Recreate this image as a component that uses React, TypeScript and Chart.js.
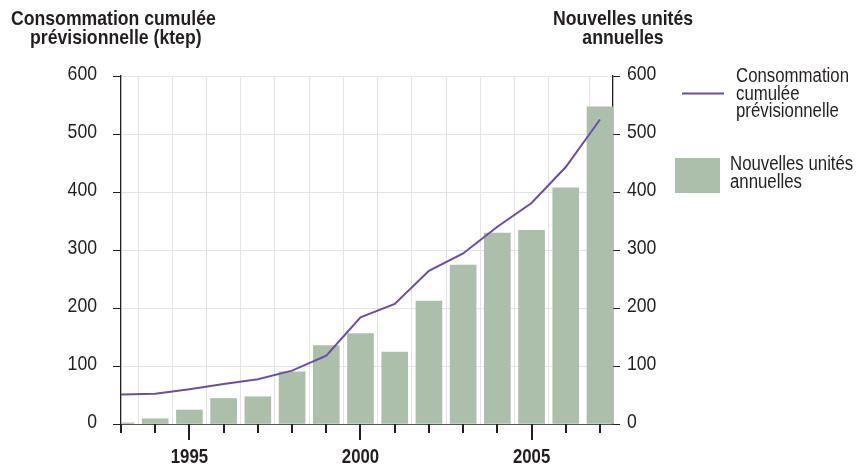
import React, { useEffect, useRef } from "react";
import { Chart, registerables } from "chart.js";

Chart.register(...registerables);

const years = [1993, 1994, 1995, 1996, 1997, 1998, 1999, 2000, 2001, 2002, 2003, 2004, 2005, 2006, 2007];
const consommation = [51, 52, 60, 69, 77, 92, 118, 184, 207, 264, 294, 340, 381, 443, 525];
const nouvellesUnites = [2, 9, 24, 44, 47, 90, 135, 156, 124, 212, 274, 329, 334, 407, 547];
const yTicks = [0, 100, 200, 300, 400, 500, 600];
const labeledYears = [1995, 2000, 2005];

const leftTitle = ["Consommation cumulée", "prévisionnelle (ktep)"];
const rightTitle = ["Nouvelles unités", "annuelles"];
const legendLine = ["Consommation", "cumulée", "prévisionnelle"];
const legendBar = ["Nouvelles unités", "annuelles"];

const FONT = "'Liberation Sans', Arial, sans-serif";
const BAR_COLOR = "#abbfab";
const LINE_COLOR = "#6b4fa3";
const TEXT = "#231f20";
const SX = 0.84;

function narrowText(ctx: any, t: string, x: number, y: number, align: "left" | "right" | "center", font: string) {
  ctx.save();
  ctx.font = font;
  ctx.textAlign = align;
  ctx.textBaseline = "alphabetic";
  ctx.translate(x, y);
  ctx.scale(SX, 1);
  ctx.fillText(t, 0, 0);
  ctx.restore();
}

const overlay = {
  id: "overlay",
  afterDraw(chart: any) {
    const ctx = chart.ctx;
    const x = chart.scales.x;
    const yL = chart.scales.y;
    const yR = chart.scales.y1;
    const area = chart.chartArea;
    ctx.save();
    // x ticks
    ctx.strokeStyle = "#231f20";
    ctx.lineWidth = 2;
    years.forEach((yr) => {
      const px = Math.round(x.getPixelForValue(yr));
      const long = labeledYears.includes(yr);
      ctx.beginPath();
      ctx.moveTo(px, area.bottom);
      ctx.lineTo(px, area.bottom + (long ? 16 : 9));
      ctx.stroke();
    });
    ctx.fillStyle = TEXT;
    labeledYears.forEach((yr) => {
      narrowText(ctx, String(yr), x.getPixelForValue(yr), 463, "center", `bold 20px ${FONT}`);
    });
    // y tick labels
    yTicks.forEach((v) => {
      narrowText(ctx, String(v), 97, yL.getPixelForValue(v) + 4, "right", `21px ${FONT}`);
      narrowText(ctx, String(v), 627, yR.getPixelForValue(v) + 4, "left", `21px ${FONT}`);
    });
    // titles
    const tf = `bold 21px ${FONT}`;
    narrowText(ctx, leftTitle[0], 11, 25, "left", tf);
    narrowText(ctx, leftTitle[1], 30, 44, "left", tf);
    narrowText(ctx, rightTitle[0], 623, 25, "center", tf);
    narrowText(ctx, rightTitle[1], 623, 44, "center", tf);
    // legend
    ctx.strokeStyle = LINE_COLOR;
    ctx.lineWidth = 2;
    ctx.beginPath();
    ctx.moveTo(682, 93.5);
    ctx.lineTo(724, 93.5);
    ctx.stroke();
    const lf = `20px ${FONT}`;
    legendLine.forEach((t, i) => narrowText(ctx, t, 736, 82 + i * 17.5, "left", lf));
    ctx.fillStyle = BAR_COLOR;
    ctx.fillRect(675, 158, 45, 35);
    ctx.fillStyle = TEXT;
    legendBar.forEach((t, i) => narrowText(ctx, t, 730, 170 + i * 18, "left", lf));
    ctx.restore();
  },
};

export default function App() {
  const ref = useRef<HTMLCanvasElement>(null);
  useEffect(() => {
    if (!ref.current) return;
    const chart = new Chart(ref.current, {
      type: "bar",
      data: {
        datasets: [
          {
            type: "line",
            label: "Consommation cumulée prévisionnelle",
            data: years.map((y, i) => ({ x: y, y: consommation[i] })),
            borderColor: LINE_COLOR,
            borderWidth: 2,
            pointRadius: 0,
            tension: 0,
            yAxisID: "y",
            order: 0,
          } as any,
          {
            type: "bar",
            label: "Nouvelles unités annuelles",
            data: years.map((y, i) => ({ x: y, y: nouvellesUnites[i] })),
            backgroundColor: BAR_COLOR,
            barThickness: 26,
            yAxisID: "y1",
            order: 1,
          },
        ],
      },
      options: {
        animation: false,
        responsive: true,
        maintainAspectRatio: false,
        layout: { padding: { top: 76, left: 0, right: 0, bottom: 0 } },
        plugins: { legend: { display: false }, tooltip: { enabled: false }, title: { display: false } },
        scales: {
          x: {
            type: "linear",
            min: 1993,
            max: 2007.38,
            offset: false,
            ticks: { display: false, stepSize: 1 },
            grid: { color: "#e3e3e3", lineWidth: 1, drawTicks: false },
            border: { display: true, color: "#555", width: 1 },
            afterFit: (s: any) => { s.height = 44; },
          },
          y: {
            position: "left",
            min: 0,
            max: 600,
            afterBuildTicks: (s: any) => { s.ticks = yTicks.map((v) => ({ value: v })); },
            ticks: { display: false },
            grid: { color: "#e3e3e3", tickColor: "#231f20", tickLength: 8, lineWidth: 1 },
            border: { display: true, color: "#231f20", width: 1.3 },
            afterFit: (s: any) => { s.width = 121; },
          },
          y1: {
            position: "right",
            min: 0,
            max: 600,
            afterBuildTicks: (s: any) => { s.ticks = yTicks.map((v) => ({ value: v })); },
            ticks: { display: false },
            grid: { drawOnChartArea: false, tickColor: "#231f20", tickLength: 7 },
            border: { display: true, color: "#231f20", width: 1.3 },
            afterFit: (s: any) => { s.width = 245; },
          },
        },
      },
      plugins: [overlay],
    });
    return () => chart.destroy();
  }, []);
  return (
    <div style={{ position: "fixed", left: 0, top: 0, width: 858, height: 468, background: "#fff" }}>
      <canvas ref={ref} />
    </div>
  );
}
